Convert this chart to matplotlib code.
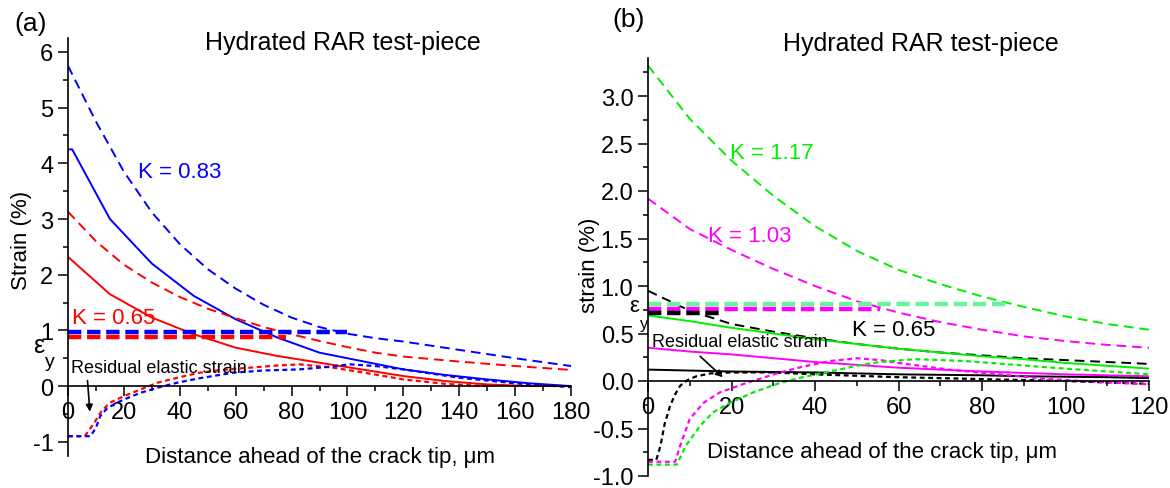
import matplotlib
matplotlib.use("Agg")
import matplotlib.pyplot as plt
from matplotlib.ticker import MultipleLocator, FormatStrFormatter

plt.rcParams['font.family'] = ['Liberation Sans', 'DejaVu Sans']
plt.rcParams['axes.unicode_minus'] = False

# ---- panel (a) data ----
xa_bd = [0, 10, 20, 30, 40, 50, 60, 70, 80, 90, 100, 110, 120, 140, 160, 180]
ya_bd = [5.75, 4.75, 3.85, 3.12, 2.55, 2.1, 1.75, 1.46, 1.23, 1.06, 0.94, 0.86, 0.8, 0.65, 0.5, 0.36]
xa_bs = [0, 1.5, 15, 30, 45, 60, 75, 90, 105, 120, 135, 150, 165, 180]
ya_bs = [4.25, 4.25, 3.0, 2.2, 1.62, 1.2, 0.87, 0.6, 0.45, 0.3, 0.2, 0.12, 0.05, 0.0]
xa_rd = [0, 10, 20, 30, 40, 50, 60, 70, 80, 90, 100, 110, 120, 140, 160, 180]
ya_rd = [3.13, 2.6, 2.18, 1.86, 1.6, 1.39, 1.22, 1.06, 0.93, 0.81, 0.7, 0.6, 0.53, 0.44, 0.36, 0.29]
xa_rs = [0, 15, 30, 45, 60, 75, 90, 105, 120, 135, 150, 165, 180]
ya_rs = [2.32, 1.65, 1.23, 0.93, 0.69, 0.54, 0.42, 0.3, 0.18, 0.09, 0.03, 0.0, 0.0]
xa_rdot = [0, 6, 9, 12, 15, 20, 25, 32, 40, 47, 55, 65, 75, 83, 95, 105, 120, 135, 150]
ya_rdot = [-0.9, -0.9, -0.69, -0.45, -0.3, -0.18, -0.08, 0.06, 0.16, 0.24, 0.29, 0.33, 0.37, 0.39, 0.33, 0.25, 0.12, 0.04, 0.0]
xa_bdot = [0, 8, 10, 11.5, 14, 17.4, 22, 26, 32, 39, 47, 59, 70, 83, 92, 101, 110, 120, 140, 160, 180]
ya_bdot = [-0.9, -0.9, -0.75, -0.54, -0.4, -0.3, -0.2, -0.12, -0.03, 0.06, 0.14, 0.24, 0.28, 0.3, 0.34, 0.39, 0.36, 0.3, 0.15, 0.05, -0.02]
eps_a_blue = [0.97, 0.97]
eps_a_blue_x = [0, 100]
eps_a_red = [0.89, 0.89]
eps_a_red_x = [0, 78]

# ---- panel (b) data ----
xb = [0, 10, 20, 30, 40, 50, 60, 70, 80, 90, 100, 110, 120]
yb_gd = [3.32, 2.76, 2.32, 1.95, 1.63, 1.37, 1.17, 1.02, 0.89, 0.78, 0.68, 0.6, 0.54]
yb_md = [1.92, 1.6, 1.38, 1.18, 1.0, 0.84, 0.72, 0.62, 0.54, 0.47, 0.42, 0.38, 0.35]
yb_kd = [0.95, 0.74, 0.6, 0.52, 0.45, 0.39, 0.34, 0.3, 0.27, 0.24, 0.22, 0.2, 0.18]
yb_gs = [0.69, 0.63, 0.56, 0.5, 0.44, 0.39, 0.34, 0.3, 0.26, 0.23, 0.19, 0.16, 0.13]
yb_ms = [0.35, 0.31, 0.28, 0.24, 0.2, 0.17, 0.14, 0.12, 0.1, 0.085, 0.07, 0.06, 0.05]
yb_ks = [0.12, 0.11, 0.1, 0.095, 0.09, 0.08, 0.07, 0.065, 0.06, 0.05, 0.045, 0.04, 0.03]
xb_kdot = [0, 2, 3, 4, 5.3, 6.5, 7.7, 9.5, 11.6, 15, 19.6, 30, 40, 60, 80, 100, 120]
yb_kdot = [-0.83, -0.83, -0.68, -0.45, -0.26, -0.14, -0.05, 0.01, 0.05, 0.08, 0.09, 0.09, 0.07, 0.04, 0.02, 0.0, -0.03]
xb_mdot = [0, 6.5, 7.7, 10, 13.3, 17.2, 23.6, 31.6, 37, 43.6, 50, 55.6, 60, 72, 84, 96, 108, 120]
yb_mdot = [-0.85, -0.85, -0.68, -0.4, -0.23, -0.12, -0.02, 0.09, 0.15, 0.21, 0.24, 0.22, 0.19, 0.12, 0.07, 0.02, -0.01, -0.035]
xb_gdot = [0, 6.9, 9.1, 12.5, 15.6, 19.6, 25.2, 31.6, 37, 43.6, 50, 55.6, 64, 76, 88, 100, 110, 120]
yb_gdot = [-0.88, -0.88, -0.68, -0.47, -0.33, -0.23, -0.12, -0.02, 0.04, 0.1, 0.16, 0.2, 0.23, 0.21, 0.17, 0.13, 0.1, 0.07]
eps_b_g = [0.81, 0.81]
eps_b_g_x = [0, 87]
eps_b_m = [0.76, 0.76]
eps_b_m_x = [0, 55.6]
eps_b_k = [0.72, 0.72]
eps_b_k_x = [0, 18]

GREEN = '#00ee00'
PALE = '#66f59a'
MAG = '#ff00ff'
dash = (0, (5, 3))
dot = (0, (2.2, 1.6))
thick = (0, (3, 1.3))

fig = plt.figure(figsize=(11.7, 4.89), dpi=100)
W, H = 1170.0, 489.0


def style(ax):
    for s in ['top', 'right']:
        ax.spines[s].set_visible(False)
    ax.spines['bottom'].set_position(('data', 0))
    ax.spines['left'].set_linewidth(1.2)
    ax.spines['bottom'].set_linewidth(1.2)
    ax.tick_params(which='major', direction='out', length=7, width=1.1, labelsize=17)
    ax.tick_params(which='minor', direction='out', length=3.5, width=1.1)
    ax.tick_params(axis='x', pad=4)


# ---------- (a) ----------
ax = fig.add_axes([68 / W, 1 - 456.7 / H, 503 / W, 417.7 / H])
style(ax)
ax.set_xlim(0, 180)
ax.set_ylim(-1.25, 6.25)
ax.xaxis.set_major_locator(MultipleLocator(20))
ax.xaxis.set_minor_locator(MultipleLocator(10))
ax.yaxis.set_major_locator(MultipleLocator(1))
ax.yaxis.set_minor_locator(MultipleLocator(0.5))

ax.plot(xa_bd, ya_bd, color='blue', lw=1.4, ls=dash)
ax.plot(xa_bs, ya_bs, color='blue', lw=1.4)
ax.plot(xa_rd, ya_rd, color='red', lw=1.4, ls=dash)
ax.plot(xa_rs, ya_rs, color='red', lw=1.4)
ax.plot(xa_rdot, ya_rdot, color='red', lw=1.6, ls=dot)
ax.plot(xa_bdot, ya_bdot, color='blue', lw=1.6, ls=dot)
ax.plot(eps_a_blue_x, eps_a_blue, color='blue', lw=3.2, ls=thick)
ax.plot(eps_a_red_x, eps_a_red, color='red', lw=3.2, ls=thick)

ax.text(25, 3.86, 'K = 0.83', color='blue', fontsize=16, va='center')
ax.text(1.3, 1.23, 'K = 0.65', color='red', fontsize=16, va='center')
ax.text(1.1, 0.34, 'Residual elastic strain', fontsize=13, va='center')
ax.annotate('', xy=(7.9, -0.51), xytext=(6.9, 0.15),
            arrowprops=dict(arrowstyle='-|>', color='black', lw=1.2, mutation_scale=10))
ax.text(-10.4, 0.74, 'ε', fontsize=18, ha='center', va='center', clip_on=False)
ax.text(-6.4, 0.45, 'y', fontsize=14, ha='center', va='center', clip_on=False)

fig.text(31 / W, 1 - 24 / H, '(a)', fontsize=19, ha='center', va='center')
fig.text(205 / W, 1 - 43 / H, 'Hydrated RAR test-piece', fontsize=18, ha='left', va='center')
fig.text(22 / W, 1 - 240 / H, 'Strain (%)', fontsize=16, rotation=90, ha='center', va='center')
fig.text(320 / W, 1 - 458 / H, 'Distance ahead of the crack tip, μm', fontsize=16, ha='center', va='center')

# ---------- (b) ----------
bx = fig.add_axes([648 / W, 1 - 477 / H, 501 / W, 418 / H])
style(bx)
bx.set_xlim(0, 120)
bx.set_ylim(-1.0, 3.4)
bx.xaxis.set_major_locator(MultipleLocator(20))
bx.xaxis.set_minor_locator(MultipleLocator(10))
bx.yaxis.set_major_locator(MultipleLocator(0.5))
bx.yaxis.set_minor_locator(MultipleLocator(0.25))
bx.yaxis.set_major_formatter(FormatStrFormatter('%.1f'))

bx.plot(xb, yb_gd, color=GREEN, lw=1.4, ls=dash)
bx.plot(xb, yb_md, color=MAG, lw=1.4, ls=dash)
bx.plot(xb, yb_kd, color='black', lw=1.4, ls=dash)
bx.plot(xb, yb_gs, color=GREEN, lw=1.4)
bx.plot(xb, yb_ms, color=MAG, lw=1.4)
bx.plot(xb, yb_ks, color='black', lw=1.4)
bx.plot(xb_kdot, yb_kdot, color='black', lw=1.6, ls=dot)
bx.plot(xb_mdot, yb_mdot, color=MAG, lw=1.6, ls=dot)
bx.plot(xb_gdot, yb_gdot, color=GREEN, lw=1.6, ls=dot)
bx.plot(eps_b_g_x, eps_b_g, color=PALE, lw=3.2, ls=thick)
bx.plot(eps_b_m_x, eps_b_m, color=MAG, lw=3.2, ls=thick)
bx.plot(eps_b_k_x, eps_b_k, color='black', lw=3.2, ls=thick)

bx.text(19.6, 2.41, 'K = 1.17', color=GREEN, fontsize=16, va='center')
bx.text(14.4, 1.53, 'K = 1.03', color=MAG, fontsize=16, va='center')
bx.text(48.9, 0.54, 'K = 0.65', color='black', fontsize=16, va='center')
bx.text(0.9, 0.42, 'Residual elastic strain', fontsize=13, va='center')
bx.annotate('', xy=(18.4, 0.02), xytext=(12, 0.28),
            arrowprops=dict(arrowstyle='-|>', color='black', lw=1.2, mutation_scale=10))
bx.text(-3.2, 0.79, 'ε', fontsize=16, ha='center', va='center', clip_on=False)
bx.text(-1.0, 0.6, 'y', fontsize=12, ha='center', va='center', clip_on=False)

fig.text(629 / W, 1 - 20 / H, '(b)', fontsize=19, ha='center', va='center')
fig.text(783 / W, 1 - 44 / H, 'Hydrated RAR test-piece', fontsize=18, ha='left', va='center')
fig.text(590 / W, 1 - 265 / H, 'strain (%)', fontsize=16, rotation=90, ha='center', va='center')
fig.text(882 / W, 1 - 453 / H, 'Distance ahead of the crack tip, μm', fontsize=16, ha='center', va='center')

fig.savefig('out.png', dpi=100)
